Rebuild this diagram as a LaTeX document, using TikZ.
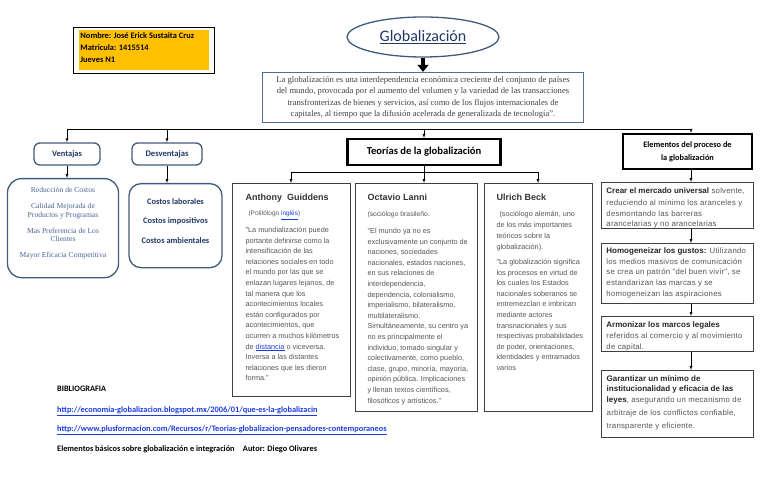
\documentclass[tikz,border=0pt]{standalone}
\usepackage{fontspec}
\setmainfont{Liberation Serif}
\newfontfamily\carlito{Carlito}
\newfontfamily\arial{Liberation Sans}
\usetikzlibrary{arrows.meta,shapes.geometric}

\definecolor{amarillo}{HTML}{FFC000}
\definecolor{azul}{HTML}{1F3864}
\definecolor{borde}{HTML}{41597D}
\definecolor{marco}{HTML}{4F6E9E}
\definecolor{gris}{HTML}{555555}
\definecolor{enlace}{HTML}{1A3CE0}
\definecolor{lista}{HTML}{4A6494}

\newcommand{\caja}[3]{\begin{minipage}[c][#2][t]{#1}\raggedright\rightskip=-30bp plus 1fil #3\end{minipage}}
\newcommand{\liga}[1]{\textcolor{enlace}{\underline{#1}}}
\newcommand{\titulo}{\color{black!80}\fontsize{9bp}{11bp}\selectfont\bfseries}
\newcommand{\cuerpo}{\arial\color{gris}\fontsize{7.3bp}{10.6bp}\selectfont}
\newcommand{\cuerpoE}{\arial\addfontfeature{LetterSpace=3}\color{gris}\fontsize{7.8bp}{10.6bp}\selectfont}
\newcommand{\resalta}{\arial\color{black!85}\fontsize{8bp}{10bp}\selectfont\bfseries}

\tikzset{
  redondo/.style={draw=borde, line width=1.3bp, rounded corners=6bp},
  teoria/.style={draw=black!75, line width=1.1bp, anchor=north west, inner sep=0pt},
  elemento/.style={draw=black!75, line width=0.9bp, anchor=north west, inner sep=0pt},
  grueso/.style={draw=black, line width=2.2bp},
  bib/.style={anchor=west, inner sep=0pt, font=\carlito\bfseries\fontsize{8.3bp}{10bp}\selectfont},
}

\begin{document}
\begin{tikzpicture}[x=1bp,y=-1bp,>=latex,inner sep=0pt]
  \useasboundingbox (0,0) rectangle (768,484);
  % encabezado
  \node (A0_0) [draw, line width=0.9bp, anchor=north west, inner xsep=5.5bp, inner ysep=3bp] at (73,27)
    {\setlength{\fboxsep}{0pt}\colorbox{amarillo}{\caja{130bp}{40bp}{\leftskip=1.5bp
      \carlito\bfseries\fontsize{8.4bp}{12bp}\selectfont\vspace*{2bp}Nombre: José Erick Sustaita Cruz\\
      Matricula: 1415514\\ Jueves N1}}};
  \node (A0_1) [ellipse, draw=borde, line width=1.3bp, minimum width=152bp, minimum height=40bp]
    at (423,37) {\carlito\fontsize{16bp}{18bp}\selectfont\color{azul}\underline{Globalización}};
  \node (A1_1) [draw=marco, line width=1.3bp, minimum width=321bp, minimum height=50bp, align=center,
    font=\fontsize{8.6bp}{11.3bp}\selectfont, text=black!75] at (423,97.5)
    {La globalización es una interdependencia económica creciente del conjunto de países\\
     del mundo, provocada por el aumento del volumen y la variedad de las transacciones\\
     transfronterizas de bienes y servicios, así como de los flujos internacionales de\\
     capitales, al tiempo que la difusión acelerada de generalizada de tecnología".};
  \path (A0_1) edge [-{Triangle[length=7bp,width=11bp]}, line width=4bp] (A1_1);

  % ramas
  \coordinate (B0) at (67,129);
  \coordinate (B1) at (691,129);
  \node (A2_0) [redondo, minimum width=66bp, minimum height=22bp,
    font=\carlito\bfseries\fontsize{8.4bp}{10bp}\selectfont, text=azul] at (67,154) {Ventajas};
  \node (A2_1) [redondo, minimum width=70bp, minimum height=22bp,
    font=\carlito\bfseries\fontsize{8.6bp}{10bp}\selectfont, text=azul] at (167,154) {Desventajas};
  \node (A2_2) [grueso, minimum width=153bp, minimum height=26bp,
    font=\carlito\bfseries\fontsize{10.6bp}{12bp}\selectfont] at (424,152) {Teorías de la globalización};
  \node (A2_3) [grueso, minimum width=129bp, minimum height=35bp, align=center,
    font=\carlito\bfseries\fontsize{8.3bp}{13bp}\selectfont] at (687.5,151.5)
    {Elementos del proceso de\\la globalización};
  \draw (B0) -- (B1);
  \draw[->] (B0) -- (A2_0);
  \draw[->] (B0 -| A2_1) -- (A2_1);
  \draw[->] (B0 -| A2_2) -- (A2_2);
  \draw[->] (B1) -- (B1 |- A2_3.north);

  % ventajas y desventajas
  \node (A3_0) [redondo, rounded corners=14bp, anchor=north] at (63,178)
    {\caja{111bp}{99bp}{\centering\fontsize{7.6bp}{8.4bp}\selectfont\color{lista}\vspace*{9bp}
      Reducción de Costos\\[7.5bp]
      Calidad Mejorada de\\ Productos y Programas\\[7.5bp]
      Mas Preferencia de Los\\ Clientes\\[7.5bp]
      Mayor Eficacia Competitiva}};
  \node (A3_1) [redondo, rounded corners=12bp, anchor=north] at (175.5,183)
    {\caja{93bp}{84bp}{\centering\carlito\bfseries\fontsize{8.4bp}{19.5bp}\selectfont\color{azul}\vspace*{14.5bp}
      Costos laborales\\ Costos impositivos\\ Costos ambientales}};
  \draw[->] (A2_0) -- (A2_0 |- A3_0.north);
  \draw[->] (A2_1) -- (A2_1 |- A3_1.north);

  % teorias
  \coordinate (C0) at (291,172);
  \coordinate (C1) at (538,172);
  \node (A4_0) [teoria] at (232,183) {\caja{118bp}{213bp}{\leftskip=13bp\cuerpo\vspace*{10.9bp}
    {\titulo Anthony\ \ Guiddens}\\[4.4bp]
    \hspace*{3bp}{\fontsize{6.5bp}{8bp}\selectfont(Politólogo \liga{inglés})}\\[6bp]
    "La mundialización puede\\
    portante definirse como la\\
    intensificación de las\\
    relaciones sociales en todo\\
    el mundo por las que se\\
    enlazan lugares lejanos, de\\
    tal manera que los\\
    acontecimientos locales\\
    están configurados por\\
    acontecimientos, que\\
    ocurren a muchos kilómetros\\
    de \liga{distancia} o viceversa.\\
    Inversa a las distantes\\
    relaciones que les dieron\\
    forma."}};
  \node (A4_1) [teoria] at (355,183) {\caja{122bp}{228bp}{\leftskip=12bp\cuerpo\vspace*{10.9bp}
    {\titulo Octavio Lanni}\\[5.4bp]
    {\fontsize{6.8bp}{8bp}\selectfont(sociólogo brasileño.}\\[5.9bp]
    "El mundo ya no es\\
    exclusivamente un conjunto de\\
    naciones, sociedades\\
    nacionales, estados naciones,\\
    en sus relaciones de\\
    interdependencia,\\
    dependencia, colonialismo,\\
    imperialismo, bilateralismo,\\
    multilateralismo.\\
    Simultáneamente, su centro ya\\
    no es principalmente el\\
    individuo, tomado singular y\\
    colectivamente, como pueblo,\\
    clase, grupo, minoría, mayoría,\\
    opinión pública. Implicaciones\\
    y llenan textos científicos,\\
    filosóficos y artísticos."}};
  \node (A4_2) [teoria] at (484,183) {\caja{108bp}{228bp}{\leftskip=12bp\cuerpo\vspace*{10.9bp}
    {\titulo Ulrich Beck}\\[5.4bp]
    \hspace*{3bp}(sociólogo alemán, uno\\[0.4bp]
    de los más importantes\\[0.4bp]
    teóricos sobre la\\[0.4bp]
    globalización).\\[4bp]
    "La globalización significa\\
    los procesos en virtud de\\
    los cuales los Estados\\
    nacionales soberanos se\\
    entremezclan e imbrican\\
    mediante actores\\
    transnacionales y sus\\
    respectivas probabilidades\\
    de poder, orientaciones,\\
    identidades y entramados\\
    varios}};
  \draw (A2_2) -- (A2_2 |- C0);
  \draw (C0) -- (C1);
  \draw[->] (C0) -- (C0 |- A4_0.north);
  \draw[->] (A2_2) -- (A2_2 |- A4_1.north);
  \draw[->] (C1) -- (C1 |- A4_2.north);

  % elementos del proceso
  \node (A3_3) [elemento] at (601,182) {\caja{152bp}{46bp}{\leftskip=5bp\cuerpoE\vspace*{5.5bp}
    {\resalta Crear el mercado universal} solvente,\\[1.4bp]
    reduciendo al mínimo los aranceles y\\
    desmontando las barreras\\
    arancelarias y no arancelarias}};
  \node (A4_3) [elemento] at (601,243) {\caja{152bp}{60bp}{\leftskip=5bp\cuerpoE\vspace*{4.5bp}
    {\resalta Homogeneizar los gustos:} Utilizando\\
    los medios masivos de comunicación\\
    se crea un patrón "del buen vivir", se\\
    estandarizan las marcas y se\\
    homogeneizan las aspiraciones}};
  \node (A5_3) [elemento] at (601,316) {\caja{152bp}{35bp}{\leftskip=5bp\cuerpoE\vspace*{5.5bp}
    {\resalta Armonizar los marcos legales}\\[0.4bp]
    referidos al comercio y al movimiento\\
    de capital.}};
  \node (A6_3) [elemento, line width=1.4bp] at (601,370) {\caja{152bp}{67bp}{\leftskip=5bp\cuerpoE\vspace*{4.5bp}
    {\resalta Garantizar un mínimo de}\\
    {\resalta institucionalidad y eficacia de las}\\
    {\resalta leyes}, asegurando un mecanismo de\\[2.4bp]
    arbitraje de los conflictos confiable,\\[2.4bp]
    transparente y eficiente.}};
  \draw[->] (B1 |- A2_3.south) -- (B1 |- A3_3.north);
  \draw[->] (B1 |- A3_3.south) -- (B1 |- A4_3.north);
  \draw[->] (B1 |- A4_3.south) -- (B1 |- A5_3.north);
  \draw[->] (B1 |- A5_3.south) -- (B1 |- A6_3.north);

  % bibliografia
  \node (D0) [bib] at (57,389) {BIBLIOGRAFIA};
  \node (D1) [bib] at (57,411) {\liga{http://economia-globalizacion.blogspot.mx/2006/01/que-es-la-globalizacin}};
  \node (D2) [bib] at (57,430) {\liga{http://www.plusformacion.com/Recursos/r/Teorias-globalizacion-pensadores-contemporaneos}};
  \node (D3) [bib] at (57,449) {Elementos básicos sobre globalización e integración\quad Autor: Diego Olivares};
\end{tikzpicture}
\end{document}
